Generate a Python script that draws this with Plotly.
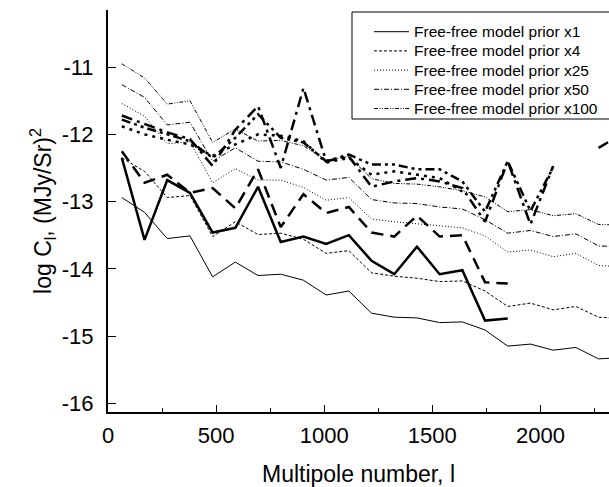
import plotly.graph_objects as go

# Multipole bin centres
ell = [64, 169, 274, 379, 484, 589, 694, 799, 904, 1009, 1114, 1219, 1324, 1429,
       1534, 1639, 1744, 1849, 1954, 2059, 2164, 2269, 2374]

# Free-free model priors (thin lines)
model_x1 = [-12.94, -13.16, -13.55, -13.51, -14.12, -13.90, -14.10, -14.08, -14.17, -14.39, -14.33,
            -14.66, -14.72, -14.73, -14.80, -14.79, -14.91, -15.15, -15.12, -15.21, -15.17, -15.34, -15.32]
model_x4 = [-12.35, -12.55, -12.94, -12.91, -13.52, -13.30, -13.49, -13.47, -13.56, -13.77, -13.73,
            -14.06, -14.11, -14.14, -14.19, -14.18, -14.33, -14.56, -14.51, -14.61, -14.56, -14.72, -14.74]
model_x25 = [-11.54, -11.73, -12.14, -12.11, -12.72, -12.51, -12.68, -12.68, -12.79, -12.98, -12.94,
             -13.26, -13.30, -13.33, -13.37, -13.39, -13.51, -13.75, -13.72, -13.82, -13.77, -13.95, -13.97]
model_x50 = [-11.26, -11.45, -11.86, -11.82, -12.40, -12.20, -12.40, -12.41, -12.52, -12.68, -12.64,
             -12.97, -13.02, -13.03, -13.08, -13.11, -13.27, -13.47, -13.43, -13.52, -13.48, -13.66, -13.67]
model_x100 = [-10.95, -11.16, -11.55, -11.50, -12.12, -11.92, -12.10, -12.09, -12.17, -12.38, -12.33,
              -12.66, -12.73, -12.74, -12.78, -12.84, -12.93, -13.15, -13.12, -13.21, -13.18, -13.34, -13.35]

# Recovered spectra (thick lines)
rec_x1 = [-12.35, -13.57, -12.68, -12.87, -13.46, -13.39, -12.78, -13.60, -13.52, -13.63, -13.50,
          -13.88, -14.08, -13.67, -14.08, -14.02, -14.77, -14.74]
rec_x4 = [-12.25, -12.72, -12.60, -12.87, -12.80, -13.10, -12.52, -13.38, -12.89, -13.17, -13.08,
          -13.46, -13.52, -13.21, -13.52, -13.50, -14.20, -14.22]
rec_x25 = [-11.88, -12.00, -12.08, -12.15, -12.32, -12.15, -12.00, -12.02, -12.10, -12.42, -12.35,
           -12.60, -12.55, -12.60, -12.65, -12.85]
rec_x50 = [-11.72, -11.85, -11.97, -12.07, -12.47, -11.93, -11.58, -12.50, -11.31, -12.40, -12.33,
           -12.78, -12.70, -12.65, -12.70, -12.80, -13.30, -12.40, -13.34, -12.47, None, -12.20, -12.00]
rec_x100 = [-11.78, -11.90, -12.00, -12.10, -12.35, -12.05, -11.70, -12.05, -12.12, -12.40, -12.30,
            -12.45, -12.45, -12.52, -12.52, -12.70, -13.15, -12.40, -13.14, -12.49]

legend_names = ["Free-free model prior x1", "Free-free model prior x4", "Free-free model prior x25",
                "Free-free model prior x50", "Free-free model prior x100"]

x_ticks = [0, 500, 1000, 1500, 2000]
x_minor = [250, 750, 1250, 1750, 2250]
y_ticks = [-16, -15, -14, -13, -12, -11]
y_labels = ["-16", "-15", "-14", "-13", "-12", "-11"]

thin_dashes = ["solid", "3px,2px", "1px,2px", "5px,2px,1px,2px", "4px,1.5px,1px,1.5px,1px,1.5px"]
thick_dashes = ["solid", "12px,7px", "3px,5px", "11px,5px,3px,5px", "9px,4px,3px,4px,3px,4px"]

models = [model_x1, model_x4, model_x25, model_x50, model_x100]
recs = [rec_x1, rec_x4, rec_x25, rec_x50, rec_x100]

FONT = "Liberation Sans, Arial, sans-serif"

fig = go.Figure()
for name, ys, dash in zip(legend_names, models, thin_dashes):
    fig.add_trace(go.Scatter(x=ell[:len(ys)], y=ys, mode="lines", name=name,
                             line=dict(color="black", width=1, dash=dash), showlegend=False))
for name, ys, dash in zip(legend_names, recs, thick_dashes):
    fig.add_trace(go.Scatter(x=ell[:len(ys)], y=ys, mode="lines", name=name + " (recovered)",
                             line=dict(color="black", width=2.5, dash=dash), connectgaps=False,
                             showlegend=False))

# geometry of plot area in pixels
L, R, T, B = 108, 609, 10, 412
W, H = 609, 487

def px(x):
    return (x - L) / (R - L)

def py(y):
    return (B - y) / (B - T)

# legend box (drawn by hand so that it runs off the right edge as in the original)
fig.add_shape(type="rect", xref="paper", yref="paper",
              x0=px(352), x1=px(640), y0=py(119), y1=py(12),
              line=dict(color="black", width=1), fillcolor="white", layer="above")
row_y = [31.7, 50.9, 70.1, 89.3, 108.5]
for name, dash, ry in zip(legend_names, thin_dashes, row_y):
    fig.add_shape(type="line", xref="paper", yref="paper",
                  x0=px(374), x1=px(409), y0=py(ry), y1=py(ry),
                  line=dict(color="black", width=1, dash=dash), layer="above")
    fig.add_annotation(xref="paper", yref="paper", x=px(413), y=py(ry), text=name,
                       showarrow=False, xanchor="left", yanchor="middle", borderpad=0,
                       font=dict(family=FONT, size=15.5, color="black"))

fig.update_layout(
    width=W, height=H,
    margin=dict(l=L, r=W - R, t=T, b=H - B),
    paper_bgcolor="white", plot_bgcolor="white",
    font=dict(family=FONT, color="black"),
    showlegend=False,
)
fig.update_xaxes(range=[0, (R - L) / 0.2162], tickvals=x_ticks,
                 ticktext=[str(v) for v in x_ticks],
                 ticks="inside", ticklen=7, tickwidth=1.3, tickcolor="black",
                 minor=dict(tickvals=x_minor, ticks="inside", ticklen=4,
                            tickwidth=1.3, tickcolor="black"),
                 showline=True, linecolor="black", linewidth=2, showgrid=False, zeroline=False,
                 tickfont=dict(size=22), ticklabelstandoff=3,
                 title=dict(text="Multipole number, l", font=dict(size=23), standoff=19))
fig.update_yaxes(range=[-16.13, -10.15], tickvals=y_ticks, ticktext=y_labels,
                 ticks="inside", ticklen=8, tickwidth=1.3, tickcolor="black",
                 showline=True, linecolor="black", linewidth=2, showgrid=False, zeroline=False,
                 tickfont=dict(size=22), ticklabelstandoff=8,
                 title=dict(text="log C<sub>l</sub>, (MJy/Sr)<sup>2</sup>", font=dict(size=23),
                            standoff=4))

fig.write_html("out.html")
